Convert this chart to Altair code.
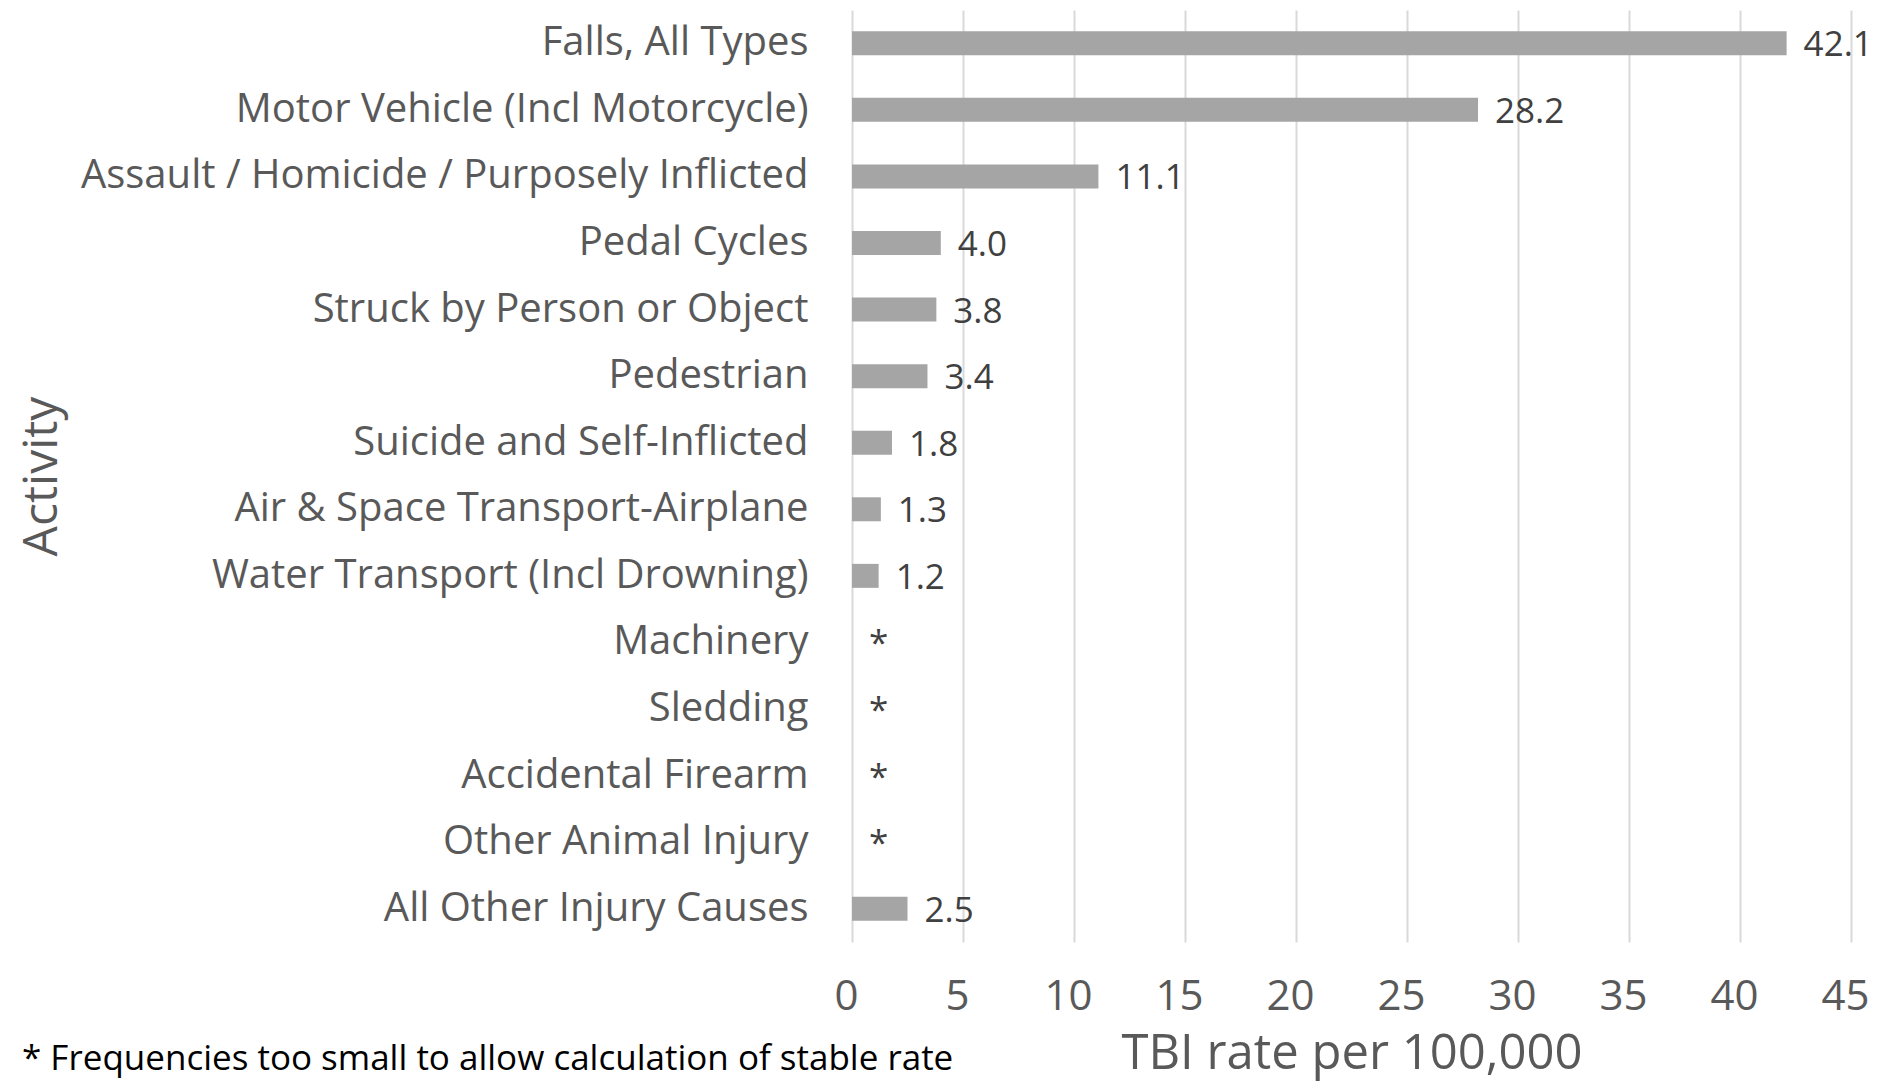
import altair as alt
import pandas as pd

categories = [
    "Falls, All Types",
    "Motor Vehicle (Incl Motorcycle)",
    "Assault / Homicide / Purposely Inflicted",
    "Pedal Cycles",
    "Struck by Person or Object",
    "Pedestrian",
    "Suicide and Self-Inflicted",
    "Air & Space Transport-Airplane",
    "Water Transport (Incl Drowning)",
    "Machinery",
    "Sledding",
    "Accidental Firearm",
    "Other Animal Injury",
    "All Other Injury Causes",
]
rates = [42.1, 28.2, 11.1, 4.0, 3.8, 3.4, 1.8, 1.3, 1.2, None, None, None, None, 2.5]
rate_labels = ["42.1", "28.2", "11.1", "4.0", "3.8", "3.4", "1.8", "1.3", "1.2",
               "*", "*", "*", "*", "2.5"]
x_ticks = [0, 5, 10, 15, 20, 25, 30, 35, 40, 45]
footnote = "* Frequencies too small to allow calculation of stable rate"

df = pd.DataFrame({"activity": categories, "rate": rates, "label": rate_labels})
df["pos"] = df["rate"].fillna(0)

FONT = "Open Sans"
GREY = "#595959"
W, H = 999, 932

y_enc = alt.Y(
    "activity:N",
    sort=categories,
    scale=alt.Scale(paddingInner=0.64, paddingOuter=0.32),
    axis=alt.Axis(
        title="Activity",
        labelFont=FONT,
        labelFontSize=40,
        labelColor=GREY,
        labelPadding=44,
        labelLimit=900,
        domain=False,
        ticks=False,
        titleFont=FONT,
        titleFontSize=48,
        titleFontWeight="normal",
        titleColor=GREY,
        titleAngle=270,
        titleX=-810,
        titleY=H / 2,
        titleAlign="center",
        titleBaseline="middle",
    ),
)

x_scale = alt.Scale(domain=[0, 45], nice=False)

bars = alt.Chart(df).mark_bar(color="#A5A5A5").encode(
    x=alt.X(
        "rate:Q",
        scale=x_scale,
        axis=alt.Axis(
            title="TBI rate per 100,000",
            values=x_ticks,
            grid=True,
            gridColor="#D9D9D9",
            gridWidth=2,
            domain=False,
            ticks=False,
            labelFont=FONT,
            labelFontSize=42,
            labelColor=GREY,
            labelPadding=34,
            labelFlush=False,
            labelOffset=-6,
            titleFont=FONT,
            titleFontSize=49,
            titleFontWeight="normal",
            titleColor=GREY,
            titleX=W / 2,
            titleY=126,
            titleAlign="center",
            titleBaseline="alphabetic",
        ),
    ),
    y=y_enc,
)

texts = alt.Chart(df).mark_text(
    align="left", baseline="middle", dx=17, dy=2, fontSize=35, font=FONT, color="#404040"
).encode(
    x=alt.X("pos:Q", scale=x_scale),
    y=alt.Y("activity:N", sort=categories),
    text="label:N",
)

note = alt.Chart(alt.Data(values=[{"t": footnote}])).mark_text(
    align="left", baseline="alphabetic", fontSize=35, font=FONT, color="#000000"
).encode(
    x=alt.value(22 - 852),
    y=alt.value(1060),
    text="t:N",
)

chart = (
    alt.layer(bars, texts, note)
    .properties(
        width=W,
        height=H,
        autosize=alt.AutoSizeParams(type="none"),
        padding={"left": 844, "top": 2, "right": 24, "bottom": 139},
    )
    .configure_view(stroke=None)
)

chart.save("out.html", embed_options={"renderer": "svg", "actions": False})
